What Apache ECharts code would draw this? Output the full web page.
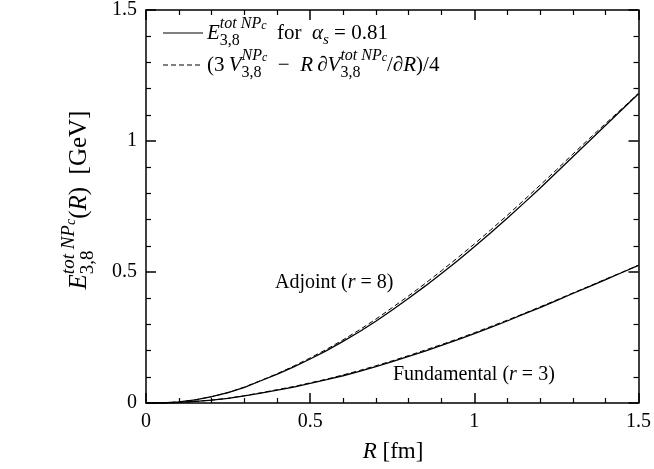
<!DOCTYPE html>
<html><head><meta charset="utf-8">
<script src="https://cdn.jsdelivr.net/npm/echarts@6/dist/echarts.min.js"></script>
<style>html,body{margin:0;padding:0;background:#fff}#c{width:654px;height:469px}</style>
</head><body><div id="c"></div>
<script>
// ---- data ----
const R = [0,0.05,0.1,0.15,0.2,0.25,0.3,0.35,0.4,0.45,0.5,0.55,0.6,0.65,0.7,0.75,0.8,0.85,0.9,0.95,1.0,1.05,1.1,1.15,1.2,1.25,1.3,1.35,1.4,1.45,1.5];
const adjointSolid = [0,0.000,0.004,0.012,0.024,0.040,0.060,0.085,0.110,0.138,0.168,0.200,0.235,0.272,0.312,0.355,0.400,0.446,0.494,0.544,0.596,0.650,0.705,0.762,0.820,0.880,0.940,1.000,1.060,1.120,1.180];
const adjointDashed = [0,0.000,0.004,0.012,0.024,0.040,0.061,0.086,0.112,0.141,0.172,0.205,0.241,0.279,0.320,0.364,0.409,0.456,0.505,0.555,0.607,0.661,0.716,0.773,0.831,0.890,0.950,1.009,1.067,1.124,1.182];
const fundSolid = [0,0.000,0.002,0.006,0.011,0.018,0.027,0.038,0.049,0.061,0.075,0.089,0.104,0.121,0.139,0.158,0.178,0.198,0.220,0.242,0.265,0.289,0.313,0.339,0.364,0.391,0.418,0.444,0.471,0.498,0.525];
const fundDashed = [0,0.000,0.002,0.006,0.011,0.018,0.028,0.039,0.051,0.063,0.077,0.091,0.107,0.124,0.142,0.161,0.181,0.202,0.223,0.245,0.268,0.292,0.316,0.341,0.367,0.393,0.420,0.446,0.473,0.499,0.526];
const xTicks = [0, 0.5, 1, 1.5];
const yTicks = [0, 0.5, 1, 1.5];

const SERIF = "'Liberation Serif','DejaVu Serif',serif";
const mctx = document.createElement('canvas').getContext('2d');
function fontStr(fs, it){ return (it ? 'italic ' : '') + fs + 'px ' + SERIF; }
function tw(t, fs, it){ mctx.font = fontStr(fs, it); return mctx.measureText(t).width; }
// parts: [text, size, italic, dy, mode]; mode 'b' begins superscript stack, 'o' places at stack start
function mathEls(parts, x0, y0){
  let x = x0, sx = x0; const els = [];
  for (const p of parts){
    const [t, fs, it, dy, mode] = p;
    let px = x;
    if (mode === 'b') sx = x;
    if (mode === 'o') px = sx;
    els.push({type:'text', x:px, y:y0+dy, style:{text:t, font:fontStr(fs,it), fill:'#000', verticalAlign:'middle', align:'left'}});
    const ww = tw(t, fs, it);
    if (mode === 'o') x = Math.max(x, px + ww); else x = px + ww;
  }
  return {els, width: x - x0};
}
function symE(main, fs, sup){ // main^{sup c}_{3,8}
  const s = Math.round(fs*0.74), ss = Math.round(fs*0.55);
  return [[main, fs, true, 0, 'n'], [sup, s, true, -fs*0.42, 'b'], ['c', ss, true, -fs*0.32, 'n'], ['3,8', s, false, fs*0.38, 'o']];
}

const chart = echarts.init(document.getElementById('c'), null, {renderer:'canvas'});

const axisCommon = {
  type:'value', min:0, max:1.5, interval:0.5,
  axisLine:{show:true, onZero:false, lineStyle:{color:'#000', width:1.5}},
  axisTick:{show:true, inside:true, length:10, lineStyle:{color:'#000', width:1.5}},
  minorTick:{show:true, splitNumber:5, length:5, lineStyle:{color:'#000', width:1.2}},
  splitLine:{show:false}, minorSplitLine:{show:false}
};
const labelStyle = {color:'#000', fontFamily:SERIF, fontSize:20};

function pairs(ys){ return R.map((r,i)=>[r, ys[i]]); }

// legend & texts
const g = [];
const LF = 21;
g.push({type:'line', shape:{x1:163,y1:33,x2:203,y2:33}, style:{stroke:'#000', lineWidth:1}});
g.push({type:'line', shape:{x1:163,y1:65,x2:203,y2:65}, style:{stroke:'#000', lineWidth:1, lineDash:[5,3]}});
const row1 = symE('E', LF, 'tot NP').concat([['  for  ', LF, false, 0, 'n'], ['\u03b1', LF, true, 0, 'n'], ['s', 15, true, 7, 'n'], [' = 0.81', LF, false, 0, 'n']]);
mathEls(row1, 207, 33).els.forEach(e=>g.push(e));
const row2 = [['(3\u2009', LF, false, 0, 'n']]
  .concat(symE('V', LF, 'NP'))
  .concat([['\u2002\u2212\u2002', LF, false, 0, 'n'], ['R', LF, true, 0, 'n'], ['\u2009\u2202', LF, false, 0, 'n']])
  .concat(symE('V', LF, 'tot NP'))
  .concat([['/\u2202', LF, false, 0, 'n'], ['R', LF, true, 0, 'n'], [')/4', LF, false, 0, 'n']]);
mathEls(row2, 207, 65).els.forEach(e=>g.push(e));

// y axis title (rotated)
const yt = symE('E', 25, 'tot NP').concat([['(', 25, false, 0, 'n'], ['R', 25, true, 0, 'n'], [')  [GeV]', 25, false, 0, 'n']]);
const ytm = mathEls(yt, 0, 0);
g.push({type:'group', x:79, y:200 + ytm.width/2, rotation:Math.PI/2, children: ytm.els});

// x axis title
const xt = [['R', 23, true, 0, 'n'], [' [fm]', 23, false, 0, 'n']];
const xtm = mathEls(xt, 0, 0);
g.push({type:'group', x:393 - xtm.width/2, y:452, children: xtm.els});

// annotations
const richI = {i:{fontStyle:'italic', fontFamily:SERIF, fontSize:20}};
g.push({type:'text', x:275, y:283, style:{text:'Adjoint ({i|r} = 8)', font:fontStr(20,false), fill:'#000', verticalAlign:'middle', rich:richI}});
g.push({type:'text', x:393, y:375, style:{text:'Fundamental ({i|r} = 3)', font:fontStr(20,false), fill:'#000', verticalAlign:'middle', rich:richI}});

const solid = {type:'line', showSymbol:false, smooth:false, lineStyle:{color:'#000', width:1.3}, z:3};
const dashed = {type:'line', showSymbol:false, smooth:false, lineStyle:{color:'#000', width:1, type:[5,3]}, z:4};

chart.setOption({
  animation:false,
  backgroundColor:'#fff',
  grid:{left:146, right:14, top:7, bottom:66, containLabel:false},
  xAxis:[
    Object.assign({}, axisCommon, {position:'bottom', axisLabel:Object.assign({show:true, margin:9, formatter:v=>xTicks.includes(v)?String(v):''}, labelStyle)}),
    Object.assign({}, axisCommon, {position:'top', axisLabel:{show:false}})
  ],
  yAxis:[
    Object.assign({}, axisCommon, {position:'left', axisLabel:Object.assign({show:true, margin:9, formatter:v=>yTicks.includes(v)?String(v):''}, labelStyle)}),
    Object.assign({}, axisCommon, {position:'right', axisLabel:{show:false}})
  ],
  series:[
    Object.assign({name:'adjoint', data:pairs(adjointSolid)}, solid),
    Object.assign({name:'adjointV', data:pairs(adjointDashed)}, dashed),
    Object.assign({name:'fund', data:pairs(fundSolid)}, solid),
    Object.assign({name:'fundV', data:pairs(fundDashed)}, dashed)
  ],
  graphic: g
});
</script></body></html>
